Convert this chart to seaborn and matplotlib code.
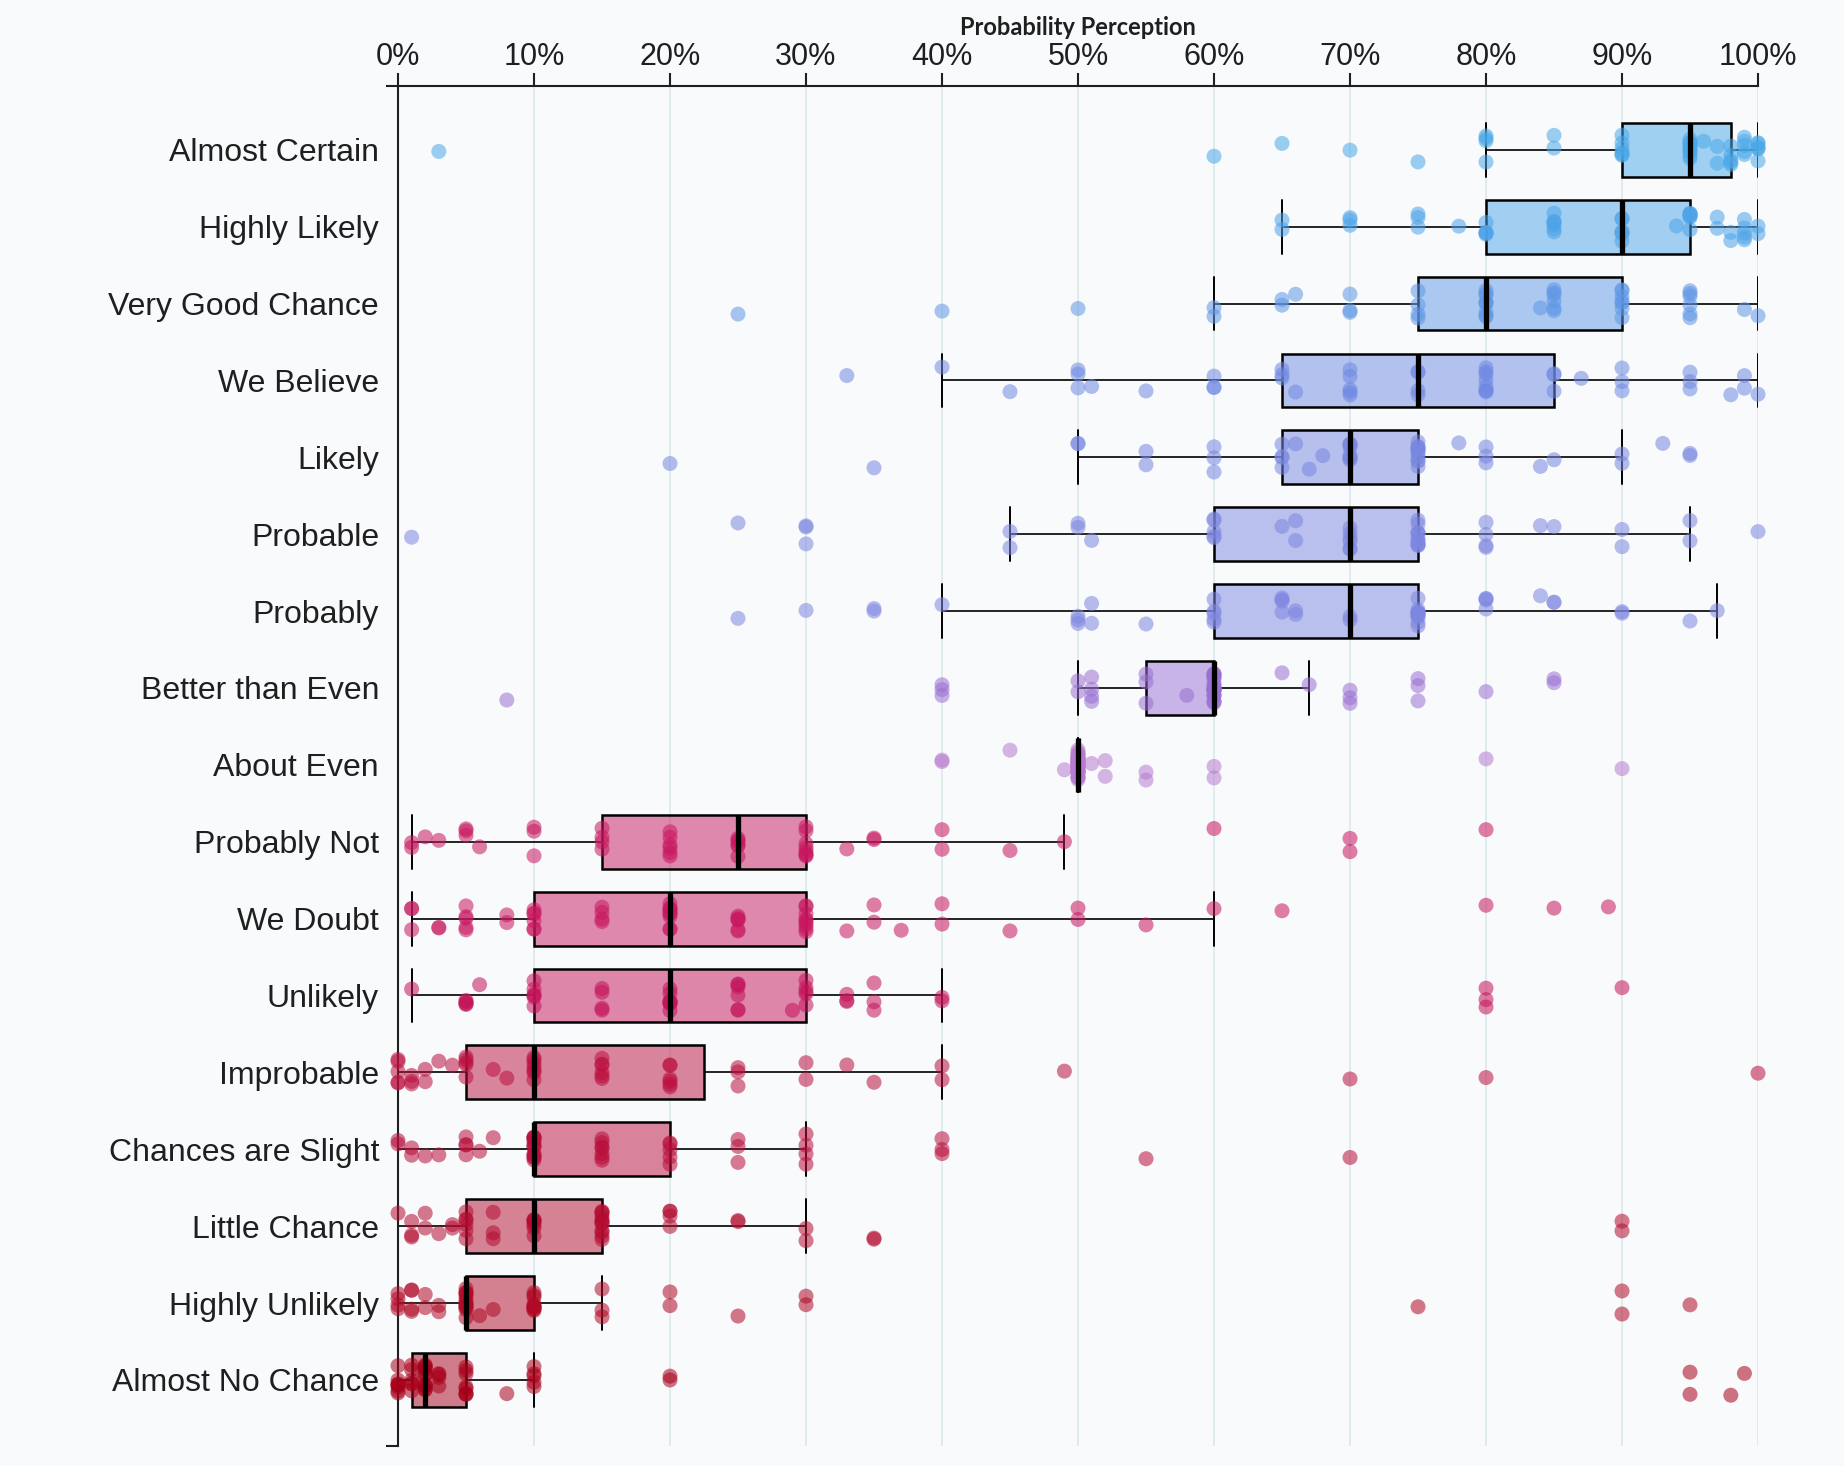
import numpy as np
import pandas as pd
import matplotlib
matplotlib.use("Agg")
import matplotlib.pyplot as plt
import matplotlib.colors as mcolors
import seaborn as sns

# phrases, top to bottom
phrases = ["Almost Certain", "Highly Likely", "Very Good Chance", "We Believe",
           "Likely", "Probable", "Probably", "Better than Even", "About Even",
           "Probably Not", "We Doubt", "Unlikely", "Improbable",
           "Chances are Slight", "Little Chance", "Highly Unlikely",
           "Almost No Chance"]

# answers (percent) per phrase
almost_certain = [3, 60, 65, 70, 75, 80, 80, 80, 80, 85, 85,
                  90, 90, 90, 90, 90, 90,
                  95, 95, 95, 95, 95, 95, 95, 95, 95, 95,
                  96, 97, 97, 98, 98, 98, 98, 98,
                  99, 99, 99, 99, 99, 100, 100, 100, 100, 100, 100]
highly_likely = [65, 65, 70, 70, 70, 75, 75, 75, 78, 80, 80, 80, 80, 80,
                 85, 85, 85, 85, 85, 85, 85, 90, 90, 90, 90, 90, 90, 94,
                 95, 95, 95, 95, 95, 95, 95, 97, 97, 98, 98, 99, 99, 99, 99, 99, 100, 100]
very_good_chance = [25, 40, 50, 60, 60, 65, 65, 66, 70, 70, 70, 75, 75, 75, 75,
                    80, 80, 80, 80, 80, 80, 80, 80, 80, 84, 85, 85, 85, 85, 85, 85,
                    90, 90, 90, 90, 90, 90, 90, 95, 95, 95, 95, 95, 95, 99, 100]
we_believe = [33, 40, 45, 50, 50, 50, 51, 55, 60, 60, 60, 65, 65, 65, 66,
              70, 70, 70, 70, 70, 75, 75, 75, 75,
              80, 80, 80, 80, 80, 80, 80, 80, 85, 85, 85,
              87, 90, 90, 90, 95, 95, 95, 98, 99, 99, 100]
likely = [20, 35, 50, 50, 55, 55, 60, 60, 60, 65, 65, 65, 65,
          66, 67, 68, 70, 70, 70, 70, 70, 70, 70, 70,
          75, 75, 75, 75, 75, 75, 75, 75, 75, 75, 75,
          78, 80, 80, 80, 84, 85, 90, 90, 93, 95, 95]
probable = [1, 25, 30, 30, 30, 45, 45, 50, 50, 51,
            60, 60, 60, 60, 60, 65, 66, 66, 70, 70, 70, 70, 70, 70,
            75, 75, 75, 75, 75, 75, 75, 75, 75, 75, 75,
            80, 80, 80, 80, 84, 85, 90, 90, 95, 95, 100]
probably = [25, 30, 35, 35, 40, 50, 50, 50, 51, 51, 55,
            60, 60, 60, 60, 60, 65, 65, 65, 65, 66, 66, 70, 70,
            75, 75, 75, 75, 75, 75, 75, 75, 75, 75, 75,
            80, 80, 80, 80, 84, 85, 85, 90, 90, 95, 97]
better_than_even = [8, 40, 40, 40, 50, 50, 51, 51, 51, 51, 55, 55, 55, 58,
                    60, 60, 60, 60, 60, 60, 60, 60, 60, 60, 60,
                    60, 60, 60, 60, 60, 60, 60, 60, 60, 60,
                    65, 67, 70, 70, 70, 75, 75, 75, 80, 85, 85]
about_even = [40, 40, 45, 49,
              50, 50, 50, 50, 50, 50, 50, 50, 50, 50, 50,
              50, 50, 50, 50, 50, 50, 50, 50, 50, 50, 50,
              50, 50, 50, 50, 50, 50, 50, 50, 50, 50, 50,
              51, 52, 52, 55, 55, 60, 60, 80, 90]
probably_not = [1, 1, 2, 3, 5, 5, 5, 6, 10, 10, 10, 15, 15, 15, 15,
                20, 20, 20, 20, 20, 20, 25, 25, 25, 25, 25, 25,
                30, 30, 30, 30, 30, 30, 30, 30,
                33, 35, 35, 40, 40, 45, 49, 60, 70, 70, 80]
we_doubt = [1, 1, 1, 3, 3, 5, 5, 5, 5, 5, 8, 8,
            10, 10, 10, 10, 10, 10, 15, 15, 15, 15,
            20, 20, 20, 20, 20, 20, 20, 20, 20,
            25, 25, 25, 25, 25, 25, 30, 30, 30, 30, 30, 30, 30, 30, 30,
            33, 35, 35, 37, 40, 40, 45, 50, 50, 55, 60, 65, 80, 85, 89]
unlikely = [1, 5, 5, 5, 5, 5, 6, 10, 10, 10, 10, 10, 10,
            15, 15, 15, 15, 20, 20, 20, 20, 20, 20, 20, 20,
            25, 25, 25, 25, 25, 25, 29, 30, 30, 30, 30, 30,
            33, 33, 33, 35, 35, 35, 40, 40, 80, 80, 80, 90]
improbable = [0, 0, 0, 0, 0, 1, 1, 1, 2, 2, 3, 4,
              5, 5, 5, 5, 5, 7, 8, 10, 10, 10, 10, 10, 10, 10,
              15, 15, 15, 15, 15, 15, 20, 20, 20, 20, 20, 20,
              25, 25, 25, 30, 30, 33, 35, 40, 40, 49, 70, 80, 100]
chances_slight = [0, 0, 1, 1, 2, 3, 5, 5, 5, 5, 6, 7,
                  10, 10, 10, 10, 10, 10, 10, 10, 10, 10, 10, 10, 10,
                  15, 15, 15, 15, 15, 15, 15, 20, 20, 20, 20, 20,
                  25, 25, 25, 30, 30, 30, 30, 40, 40, 40, 55, 70]
little_chance = [0, 1, 1, 1, 2, 2, 3, 4, 4, 5, 5, 5, 5, 5, 5, 7, 7, 7,
                 10, 10, 10, 10, 10, 10, 10,
                 15, 15, 15, 15, 15, 15, 15, 15, 15, 15, 15, 15,
                 20, 20, 20, 20, 25, 25, 30, 30, 35, 35, 90, 90]
highly_unlikely = [0, 0, 0, 0, 1, 1, 1, 1, 2, 2, 3, 3,
                   5, 5, 5, 5, 5, 5, 5, 5, 5, 5, 5, 5, 5, 6, 7,
                   10, 10, 10, 10, 10, 10, 10, 10, 10, 10,
                   15, 15, 15, 20, 20, 25, 30, 30, 75, 90, 90, 95]
almost_no_chance = [0, 0, 0, 0, 0, 0, 0, 0, 1, 1, 1, 1, 1, 1,
                    2, 2, 2, 2, 2, 2, 2, 2, 2, 2, 2, 3, 3, 3, 3,
                    5, 5, 5, 5, 5, 5, 5, 5, 8, 10, 10, 10, 10, 10, 20, 20, 95, 95, 98, 99]

x_ticks = [0, 10, 20, 30, 40, 50, 60, 70, 80, 90, 100]
x_labels = ["0%", "10%", "20%", "30%", "40%", "50%", "60%", "70%", "80%", "90%", "100%"]

# one colour per phrase, sky blue -> purple -> crimson
colors = ["#4aa8e8", "#4ea4e8", "#5f97e6", "#6f89e2", "#7887e0", "#7c87e0",
          "#7e87e0", "#9a70d2", "#b67bd0", "#c8175f", "#c8175f", "#c4135a",
          "#bb103f", "#b90e3b", "#b40c30", "#b00a26", "#a8001a"]

series = [almost_certain, highly_likely, very_good_chance, we_believe, likely,
          probable, probably, better_than_even, about_even, probably_not,
          we_doubt, unlikely, improbable, chances_slight, little_chance,
          highly_unlikely, almost_no_chance]

# long table for seaborn
rows = []
for name, values in zip(phrases, series):
    for v in values:
        rows.append((name, v))
df = pd.DataFrame(rows, columns=["phrase", "value"])

bg = "#f8fafc"
ink = "#1f1f1f"

sns.set_style("white")
plt.rcParams["font.family"] = ["Liberation Sans", "DejaVu Sans"]

fig = plt.figure(figsize=(18.44, 14.66), dpi=100, facecolor=bg)
ax = fig.add_axes([0.21584, 0.01364, 0.73753, 0.92769])
ax.set_facecolor(bg)

# boxes
sns.boxplot(data=df, x="value", y="phrase", hue="phrase", order=phrases,
            hue_order=phrases, palette=colors, saturation=1, width=0.7,
            whis=1.5, showfliers=False, linecolor="black", linewidth=1.8,
            legend=False, capwidths=0.7,
            medianprops=dict(linewidth=3.8, zorder=4),
            whiskerprops=dict(linewidth=1.2),
            capprops=dict(linewidth=1.4),
            ax=ax)

# lighten the box fill
for patch in ax.patches:
    patch.set_facecolor(mcolors.to_rgba(patch.get_facecolor(), 0.5))

# all the answers on top
np.random.seed(3)
sns.stripplot(data=df, x="value", y="phrase", hue="phrase", order=phrases,
              hue_order=phrases, palette=colors, jitter=0.2, size=10.8,
              alpha=0.55, linewidth=0, legend=False, zorder=3, clip_on=False,
              ax=ax)

ax.set_xlim(0, 100)
ax.set_ylim(16.86, -0.83)

# x axis on top
ax.set_xticks(x_ticks)
ax.set_xticklabels(x_labels)
ax.xaxis.tick_top()
ax.xaxis.set_label_position("top")
ax.set_xlabel("Probability Perception", fontfamily="Lato", fontweight="bold",
              fontsize=17, color=ink, labelpad=5)
ax.set_ylabel("")

ax.tick_params(axis="x", which="major", length=9.4, width=1.5, pad=0.5,
               labelsize=22, colors=ink)
ax.tick_params(axis="y", which="major", length=8.6, width=1.5, pad=5,
               labelsize=23, colors=ink)
# end ticks of the y domain
ax.set_yticks([-0.83, 16.86], minor=True)
ax.tick_params(axis="y", which="minor", length=8.6, width=1.5, left=True,
               labelleft=False, color=ink)

for side in ["right", "bottom"]:
    ax.spines[side].set_visible(False)
for side in ["top", "left"]:
    ax.spines[side].set_linewidth(1.5)
    ax.spines[side].set_color(ink)

ax.grid(axis="x", color="#dce8ec", linewidth=1.2)
ax.grid(axis="y", visible=False)
ax.set_axisbelow(True)

fig.savefig("out.png", dpi=100, facecolor=bg)
